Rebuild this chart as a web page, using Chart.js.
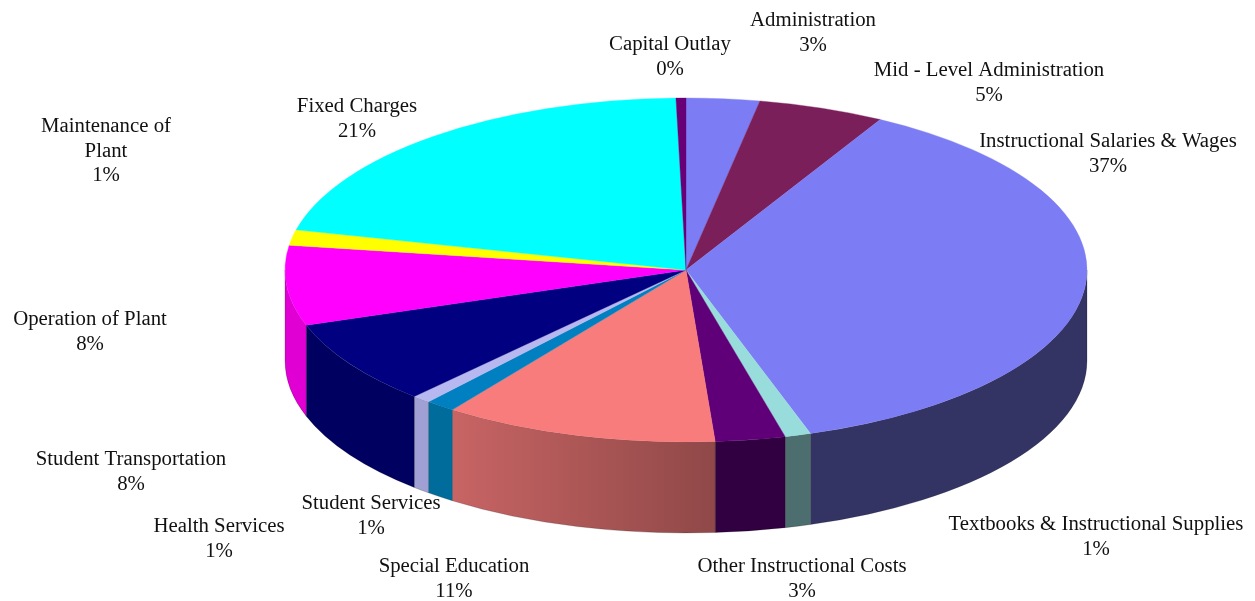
<!DOCTYPE html>
<html>
<head>
<meta charset="utf-8">
<style>html,body{margin:0;padding:0;background:#fff}canvas{display:block}</style>
<script src="https://cdn.jsdelivr.net/npm/chart.js@4"></script>
</head>
<body>
<canvas id="c" width="1255" height="601"></canvas>
<script>
const categories = ["Administration","Mid - Level Administration","Instructional Salaries & Wages","Textbooks & Instructional Supplies","Other Instructional Costs","Special Education","Student Services","Health Services","Student Transportation","Operation of Plant","Maintenance of|Plant","Fixed Charges","Capital Outlay"];
const values = [2.95,5.1,36.925,1.045,2.82,11.06,1.2,0.75,7.95,7.5,1.45,20.85,0.4];
const percentLabels = ["3%","5%","37%","1%","3%","11%","1%","1%","8%","8%","1%","21%","0%"];
const topColors = ["#7c7cf4","#7a1f5a","#7c7cf4","#98dcdc","#600078","#f87c7c","#0080c0","#b8b8f0","#000080","#ff00ff","#ffff00","#00ffff","#680078"];
const wallStart = ["#343464","#3c102c","#343464","#4c6e6e","#300040","#c86464","#006c9c","#a0a0d4","#000060","#e000d4","#808000","#008080","#340040"];
const wallEnd = ["#343464","#3c102c","#343464","#4c6e6e","#300040","#904848","#006c9c","#a0a0d4","#000060","#e000d4","#808000","#008080","#340040"];
const labelX = [813,989,1108,1096,802,454,371,219,131,90,106,357,670];
const labelY = [21,71,142,525,567,567,504,527,460,320,127,107,45];

const squash = 172/401, depth = 91, lineH = 24.5;

const pie3d = {
  id:'pie3d',
  beforeDatasetsDraw(chart){
    const ctx = chart.ctx, arcs = chart.getDatasetMeta(0).data;
    arcs.forEach((a,i)=>{
      const s = Math.max(a.startAngle,0), e = Math.min(a.endAngle,Math.PI);
      if(e<=s) return;
      const r = a.outerRadius, ry = r*squash;
      const g = ctx.createLinearGradient(a.x+r*Math.cos(e),0,a.x+r*Math.cos(s),0);
      g.addColorStop(0,wallStart[i]); g.addColorStop(1,wallEnd[i]);
      ctx.beginPath();
      ctx.ellipse(a.x,a.y,r,ry,0,s,e);
      ctx.ellipse(a.x,a.y+depth,r,ry,0,e,s,true);
      ctx.closePath();
      ctx.fillStyle = g; ctx.fill();
      ctx.strokeStyle='rgba(0,0,0,0.3)'; ctx.lineWidth=0.6; ctx.stroke();
    });
    const a0 = arcs[0];
    ctx.save();
    ctx.translate(a0.x,a0.y); ctx.scale(1,squash); ctx.translate(-a0.x,-a0.y);
  },
  afterDatasetsDraw(chart){
    const ctx = chart.ctx;
    ctx.restore();
    ctx.save();
    ctx.fillStyle='#111'; ctx.font='20.8px "Liberation Serif"';
    ctx.textAlign='center'; ctx.textBaseline='middle';
    categories.forEach((c,i)=>{
      const lines = c.split('|').concat(percentLabels[i]);
      lines.forEach((t,j)=>ctx.fillText(t,labelX[i],labelY[i]+j*lineH));
    });
    ctx.restore();
  }
};

new Chart(document.getElementById('c'),{
  type:'pie',
  data:{labels:categories,datasets:[{data:values,backgroundColor:topColors,borderColor:topColors,borderWidth:0.5,radius:401,clip:false}]},
  options:{
    responsive:false,animation:false,rotation:0,
    layout:{padding:{left:117,right:0,top:0,bottom:61}},
    plugins:{legend:{display:false},tooltip:{enabled:false},title:{display:false}}
  },
  plugins:[pie3d]
});
</script>
</body>
</html>
